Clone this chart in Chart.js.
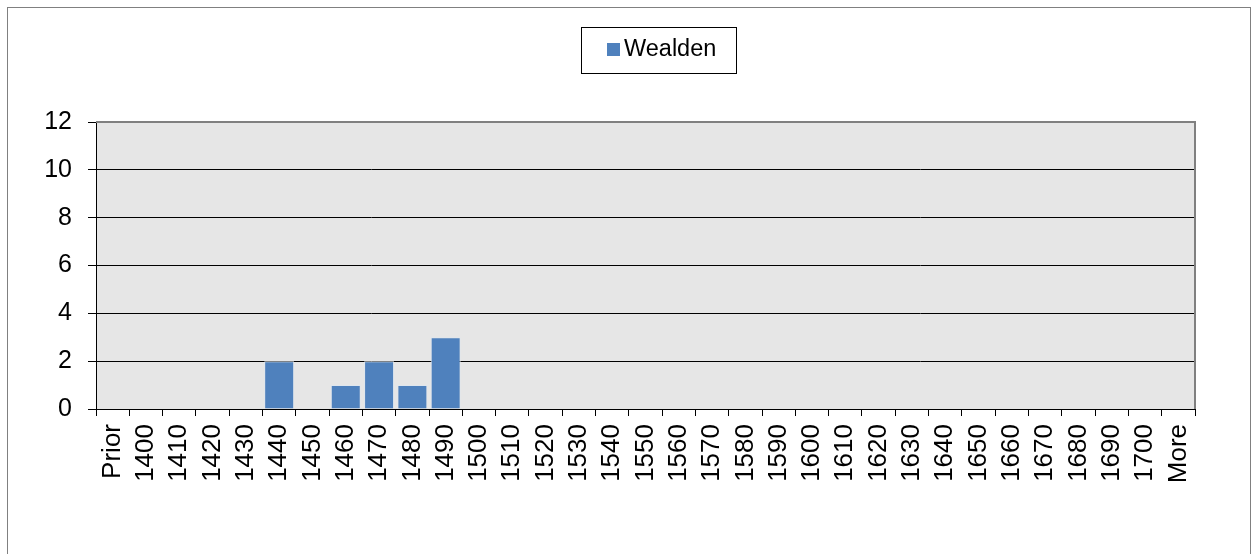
<!DOCTYPE html>
<html><head><meta charset="utf-8">
<script src="https://cdn.jsdelivr.net/npm/chart.js@4.4.1/dist/chart.umd.min.js"></script>
<style>
html,body{margin:0;padding:0;background:#fff;}
#wrap{position:absolute;left:0;top:0;width:1252px;height:554px;}
</style></head><body>
<div id="wrap"><canvas id="c" width="1252" height="554"></canvas></div>
<script>
const categories = ["Prior","1400","1410","1420","1430","1440","1450","1460","1470","1480","1490","1500","1510","1520","1530","1540","1550","1560","1570","1580","1590","1600","1610","1620","1630","1640","1650","1660","1670","1680","1690","1700","More"];
const wealden = [0,0,0,0,0,2,0,1,2,1,3,0,0,0,0,0,0,0,0,0,0,0,0,0,0,0,0,0,0,0,0,0,0];
const seriesName = "Wealden";
const yTicks = [0,2,4,6,8,10,12];

const FONT = "'Liberation Sans', Arial, sans-serif";
const PLOT = {left:96, right:1195, top:122, bottom:409};

const deco = {
  id:'deco',
  beforeDraw(chart){
    const ctx = chart.ctx, a = chart.chartArea;
    ctx.save();
    ctx.fillStyle = '#fff';
    ctx.fillRect(0,0,chart.width,chart.height);
    ctx.strokeStyle = '#808080';
    ctx.lineWidth = 1;
    ctx.strokeRect(7.5,7.5,1243,560);
    ctx.fillStyle = '#e6e6e6';
    ctx.fillRect(a.left,a.top,a.right-a.left,a.bottom-a.top);
    ctx.restore();
  },
  afterDraw(chart){
    const ctx = chart.ctx, a = chart.chartArea;
    ctx.save();
    ctx.strokeStyle = '#808080';
    ctx.lineWidth = 2;
    ctx.beginPath();
    ctx.moveTo(a.left, a.top);
    ctx.lineTo(a.right, a.top);
    ctx.lineTo(a.right, a.bottom);
    ctx.stroke();
    // legend
    ctx.lineWidth = 1;
    ctx.strokeStyle = '#000';
    ctx.strokeRect(581.5,27.5,155,46);
    ctx.fillStyle = '#4f81bd';
    ctx.fillRect(607,43,13,13);
    ctx.fillStyle = '#000';
    ctx.font = '23.5px ' + FONT;
    ctx.textBaseline = 'middle';
    ctx.textAlign = 'left';
    ctx.fillText(seriesName, 624, 50);
    ctx.restore();
  }
};

new Chart(document.getElementById('c'), {
  type:'bar',
  data:{labels:categories, datasets:[{label:seriesName, data:wealden, backgroundColor:'#4f81bd', borderColor:'#dfe6ee', borderWidth:1, barPercentage:0.9, categoryPercentage:1.0}]},
  options:{
    responsive:false, animation:false,
    layout:{padding:{left:0, top:PLOT.top, right:1252-PLOT.right, bottom:0}},
    plugins:{legend:{display:false}, tooltip:{enabled:false}},
    scales:{
      x:{
        offset:true,
        grid:{display:true, drawOnChartArea:false, drawTicks:true, tickLength:7, color:'#000', offset:true},
        border:{display:true, color:'#000', width:1},
        ticks:{color:'#000', font:{family:FONT, size:26}, maxRotation:90, minRotation:90, autoSkip:false, padding:8},
        afterFit(s){ s.height = 554 - PLOT.bottom; }
      },
      y:{
        min:0, max:12,
        afterBuildTicks(s){ s.ticks = yTicks.map(v=>({value:v})); },
        grid:{color:'#000', lineWidth:1, tickLength:8, drawTicks:true},
        border:{display:true, color:'#000', width:1},
        ticks:{color:'#000', font:{family:FONT, size:25}, padding:16},
        afterFit(s){ s.width = PLOT.left; }
      }
    }
  },
  plugins:[deco]
});
</script>
</body></html>
